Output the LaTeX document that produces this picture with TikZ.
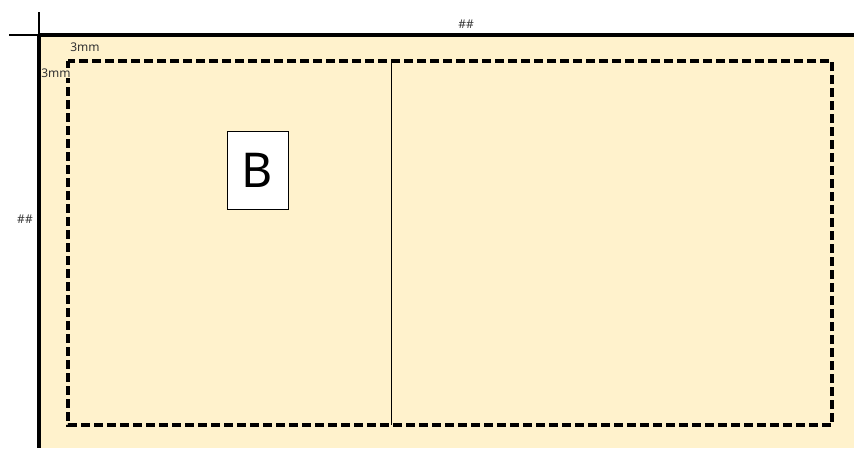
\documentclass[tikz,border=0pt]{standalone}
\usepackage{fontspec}
\setmainfont{Noto Sans}
\usepackage{tikz}
\usetikzlibrary{positioning}
\definecolor{paper}{HTML}{FFF2CC}

\begin{document}
\begin{tikzpicture}[
    x=1pt, y=-1pt,
    label/.style={inner sep=0pt, font=\fontsize{12}{14}\selectfont, text=black!80},
    bigbox/.style={rectangle, draw=black, line width=0.8pt, fill=white, minimum width=61pt, minimum height=78pt, inner sep=0pt, font=\fontsize{48}{52}\selectfont},
    guide/.style={line width=3.2pt, dash pattern=on 9pt off 4pt},
    edge/.style={line width=3.2pt}
]
\useasboundingbox (0,0) rectangle (854,448);

% 用紙
\fill[paper] (40,36) rectangle (854,448);
\draw[line width=1.8pt] (39,12) -- (39,36);
\draw[line width=1.8pt] (9,35) -- (39,35);
\draw[edge] (39,35) -- (39,448);
\draw[edge] (39,35) -- (854,35);

% 余白線
\coordinate (tl) at (68,61);
\coordinate (br) at (832,425);
\draw[guide] (tl) rectangle (br);
\coordinate (midtop) at (391,61);
\coordinate (midbot) at (391,425);
\draw[line width=1pt] (midtop) -- (midbot);

% ノード
\node (boxb) [bigbox] at (257.5,170) {B};
\node (wtop) [label] at (466,24) {\#\#};
\node (hleft) [label] at (25,219) {\#\#};
\node (mtop) [label] at (85,47) {3mm};
\node (mleft) [label, fill=paper, inner sep=0.5pt] at (56,73) {3mm};

\end{tikzpicture}
\end{document}
